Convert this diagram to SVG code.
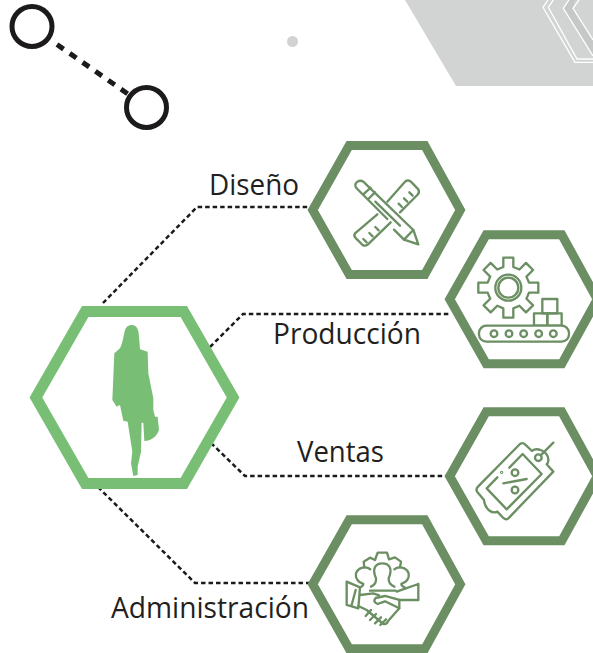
<svg xmlns="http://www.w3.org/2000/svg" width="593" height="653" viewBox="0 0 593 653">
<style>
.lbl{font-family:"Open Sans","Noto Sans",sans-serif;font-size:29px;fill:#231f20}
.hex{fill:#fff;stroke:#6b8f63;stroke-width:9;stroke-linejoin:miter}
.ic{fill:none;stroke:#6b8f63;stroke-width:7;stroke-linecap:round;stroke-linejoin:round}
.ring{fill:none;stroke:#1c1a1b;stroke-width:5}
.link{fill:none;stroke:#1c1a1b;stroke-width:2.5;stroke-dasharray:4.5 3}
.wl{fill:none;stroke:#fff;stroke-width:1.3}
</style>
<defs>
<polygon id="h" points="312.7,210 349.2,145.5 424.8,145.5 460.3,210 424.8,274.5 349.2,274.5"/>
</defs>
<g id="decor">
<polygon points="405,0 456,86 593,86 593,0" fill="#d2d3d3"/>
<polygon points="563.3,8.3 569,0 575,0 573,8.3 593,40 593,56" fill="#c6c7c7"/>
<polyline class="wl" points="552,-6 543,7.3 575,62.3 593,62.3"/>
<polyline class="wl" points="554,-1 548.3,7.3 577,59 593,59"/>
<polyline class="wl" points="569,0 563.3,8.3 593,56"/>
<polyline class="wl" points="579,0 573,8.3 593,40"/>
<circle cx="292.5" cy="41.5" r="5.5" fill="#d1d2d3"/>
<line x1="57" y1="44.5" x2="128" y2="94" stroke="#1c1a1b" stroke-width="5" stroke-dasharray="8 7.6"/>
<circle class="ring" cx="32" cy="26.5" r="20"/>
<circle class="ring" cx="146.5" cy="107.5" r="20"/>
</g>
<g id="connectors">
<polyline class="link" points="103,303 197,207 312,207"/>
<polyline class="link" points="210,347 243,314 449,314"/>
<polyline class="link" points="211,443 245,476 449,476"/>
<polyline class="link" points="98,487 195,583 312,583"/>
</g>
<g id="central">
<polygon points="35.9,397.5 85.2,311.5 183.8,311.5 233.1,397.5 183.8,483.5 85.2,483.5" fill="#fff" stroke="#78bf75" stroke-width="11"/>
<path transform="translate(25,300) scale(.3333)" fill="#78bf75" d="M320 75C335 75 341 88 342 110L345 148L368 155L370 220L385 295L385 330L390 350L398 350L402 390C395 410 378 423 358 423L355 368L350 368L348 455L338 500L338 525L325 528L318 490L322 455L308 365L295 362L285 315L275 320L262 300L268 160L285 145C293 130 296 105 300 90C304 80 310 75 320 75Z"/>
</g>
<g id="diseno">
<use href="#h" class="hex"/>
<g transform="translate(300,135) scale(.3333)" class="ic">
<path d="M262 200L315 140Q325 132 335 142L355 163Q360 172 352 180L300 232M232 238L165 295Q160 302 168 310L188 330Q195 335 204 328L272 262"/>
<path d="M296 206L306 216M312 190L322 200M328 172L338 182M226 276L236 286M208 294L218 304M190 312L200 322"/>
<path d="M190 180L172 162Q160 150 172 140Q186 132 196 146L340 285L355 328L312 314L282 284M190 180L262 252"/>
<path d="M190 178L212 158M205 192L225 172M226 200L300 272M312 314L340 285"/>
</g>
<text class="lbl" x="209" y="195" textLength="90" lengthAdjust="spacingAndGlyphs">Diseño</text>
</g>
<g id="produccion">
<use href="#h" class="hex" transform="translate(137,89.3)"/>
<g transform="translate(440,225) scale(.3333)" class="ic">
<polygon transform="translate(205,188)" points="-15,-62 -15,-90 15,-90 15,-62 33.2,-54.4 53,-74.2 74.2,-53 54.4,-33.2 62,-15 90,-15 90,15 62,15 54.4,33.2 74.2,53 53,74.2 33.2,54.4 15,62 15,90 -15,90 -15,62 -33.2,54.4 -53,74.2 -74.2,53 -54.4,33.2 -62,15 -90,15 -90,-15 -62,-15 -54.4,-33.2 -74.2,-53 -53,-74.2 -33.2,-54.4"/>
<circle cx="205" cy="188" r="39"/>
<circle cx="205" cy="188" r="30"/>
<rect x="307" y="222" width="45" height="43"/>
<rect x="282" y="265" width="40" height="37"/>
<rect x="322" y="265" width="43" height="37"/>
<rect x="117" y="302" width="270" height="48" rx="22" fill="#fff"/>
<circle cx="162" cy="326" r="10"/><circle cx="207" cy="326" r="10"/><circle cx="251" cy="326" r="10"/><circle cx="296" cy="326" r="10"/><circle cx="340" cy="326" r="10"/>
</g>
<text class="lbl" x="273" y="344" textLength="148" lengthAdjust="spacingAndGlyphs">Producción</text>
</g>
<g id="ventas">
<use href="#h" class="hex" transform="translate(137,266.3)"/>
<g transform="translate(440,400) scale(.3333)" class="ic">
<path d="M240 132Q248 126 256 134L276 153C288 142 322 150 325 178Q326 188 320 193L340 215L205 355Q198 361 190 354L172 335C158 342 135 330 132 300L112 276Q106 268 114 260Z"/>
<path d="M208 203L248 162L305 222L200 328L140 265L172 232"/>
<circle cx="295" cy="173" r="10"/>
<path d="M302 166L340 128M190 250L260 237"/>
<circle cx="225" cy="218" r="10"/>
<circle cx="225" cy="270" r="10"/>
<circle cx="185" cy="217" r="1.5"/>
</g>
<text class="lbl" x="297" y="462" textLength="87" lengthAdjust="spacingAndGlyphs">Ventas</text>
</g>
<g id="administracion">
<use href="#h" class="hex" transform="translate(0,374.3)"/>
<g transform="translate(305,510) scale(.3333)" class="ic">
<path d="M178 172L176 155L195 143L210 150L218 128H246L252 148L270 142L288 155L285 172"/>
<path d="M196 178C185 168 160 170 153 190C150 205 160 218 175 222Q175 228 165 232"/>
<path d="M268 178C279 168 304 170 311 190C314 205 304 218 289 222Q289 228 299 232"/>
<path d="M198 230Q215 222 213 205C200 175 212 160 232 160C252 160 264 175 251 205Q250 222 268 230M195 242H272"/>
<path d="M125 215L165 232L160 295L125 285ZM152 240L140 285"/>
<path d="M165 255L205 250L222 256M160 288L185 300L235 342Q245 345 250 332L283 295L283 270"/>
<path d="M340 222V270H283L240 258L212 264Q202 276 218 282L240 274L283 295M275 245L340 222"/>
<path d="M182 318L198 300M195 330L213 312M210 340L228 322M226 345L243 328"/>
</g>
<text class="lbl" x="111" y="618" textLength="198" lengthAdjust="spacingAndGlyphs">Administración</text>
</g>
</svg>
